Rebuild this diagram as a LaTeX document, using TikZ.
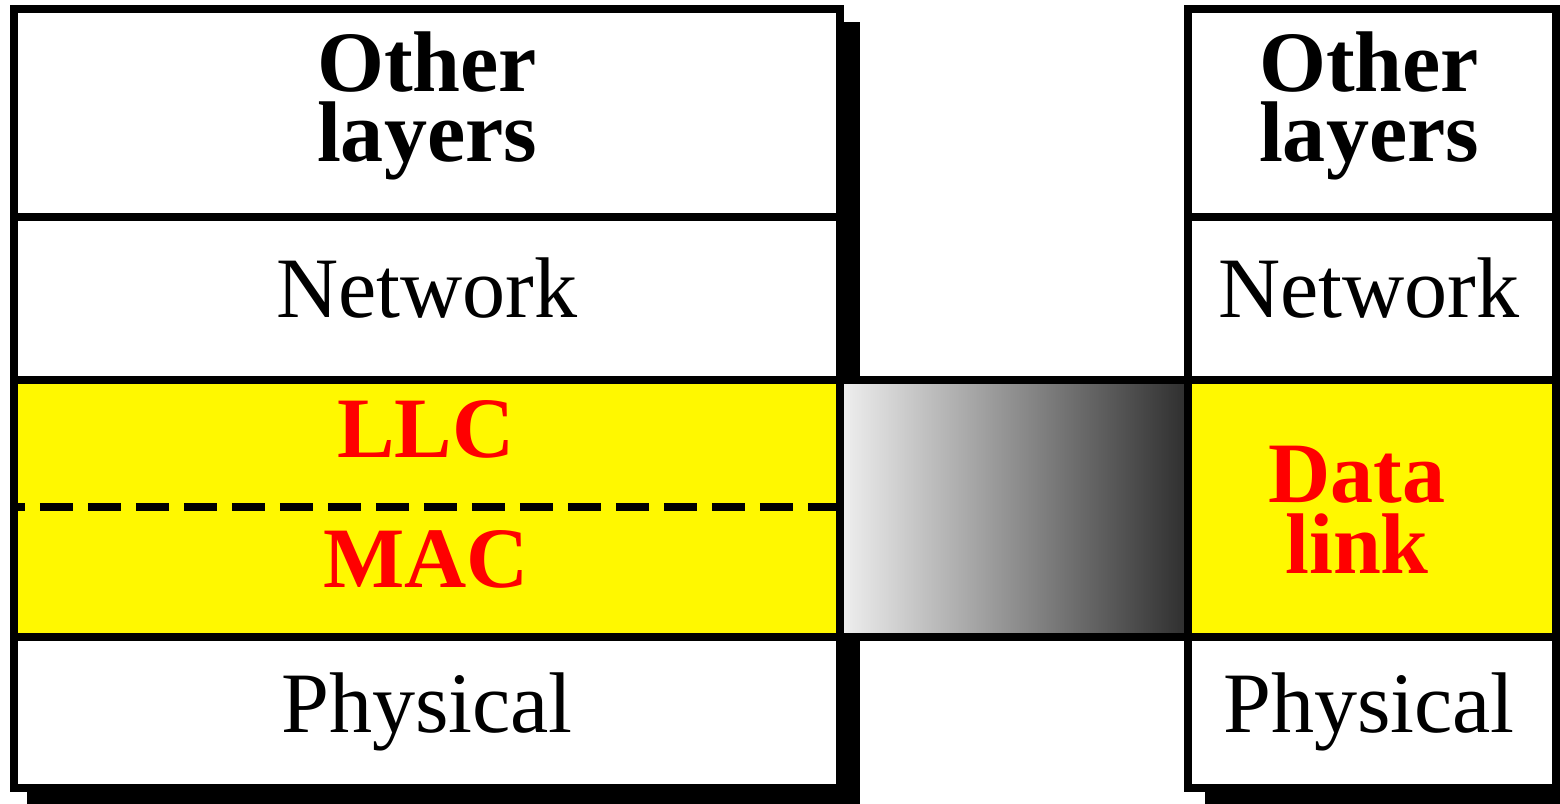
\documentclass[tikz,border=0pt]{standalone}
\usepackage{fontspec}
\setmainfont{Liberation Serif}
\definecolor{dlyellow}{RGB}{255,248,0}
\definecolor{dlred}{RGB}{255,0,0}
\tikzset{
  frame/.style={line width=0.16cm},
  layertext/.style={font=\fontsize{49}{40}\selectfont, anchor=base, inner sep=0pt, align=center},
  boldtext/.style={layertext, font=\fontsize{49}{40}\selectfont\bfseries},
  redtext/.style={boldtext, text=dlred},
}
\begin{document}
\begin{tikzpicture}[x=0.02cm, y=-0.02cm]
			\useasboundingbox (0,0) rectangle (1560,804);
			\clip (0,0) rectangle (1560,804);
			% shadows
			\fill[black] (27,22) rectangle (860,809);
			\fill[black] (1205,22) rectangle (1580,809);
			% stacks
			\fill[white] (14,9) rectangle (840,788);
			\fill[white] (1188,9) rectangle (1556,788);
			\fill[dlyellow] (14,380) rectangle (840,637);
			\fill[dlyellow] (1188,380) rectangle (1556,637);
			\shade[left color=black!6, right color=black!82] (840,380) rectangle (1188,637);
			
			\draw[frame] (14,9) rectangle (840,788);
			\draw[frame] (1188,9) rectangle (1556,788);
			\draw[frame] (14,217) -- (840,217);
			\draw[frame] (1188,217) -- (1556,217);
			\draw[frame] (14,380) -- (1188,380) -- (1556,380);
			\draw[frame] (14,637) -- (1188,637) -- (1556,637);
			\draw[frame] (1188,380) -- (1188,637);
			\draw[line width=0.16cm, dash pattern=on 0.66cm off 0.3cm, dash phase=0.5cm] (17,507) -- (837,507);
			
			% left stack
			\node[boldtext] (lother) at (427,162) {Other\\layers};
			\node[layertext] (lnet) at (427,318) {Network};
			\node[redtext] (llc) at (426,458) {LLC};
			\node[redtext] (mac) at (426,587) {MAC};
			\node[layertext] (lphy) at (427,732) {Physical};
			
			% right stack
			\node[boldtext] (rother) at (1369,162) {Other\\layers};
			\node[layertext] (rnet) at (1369,318) {Network};
			\node[redtext] (dlink) at (1357,573) {Data\\link};
			\node[layertext] (rphy) at (1369,732) {Physical};
		\end{tikzpicture}
\end{document}
